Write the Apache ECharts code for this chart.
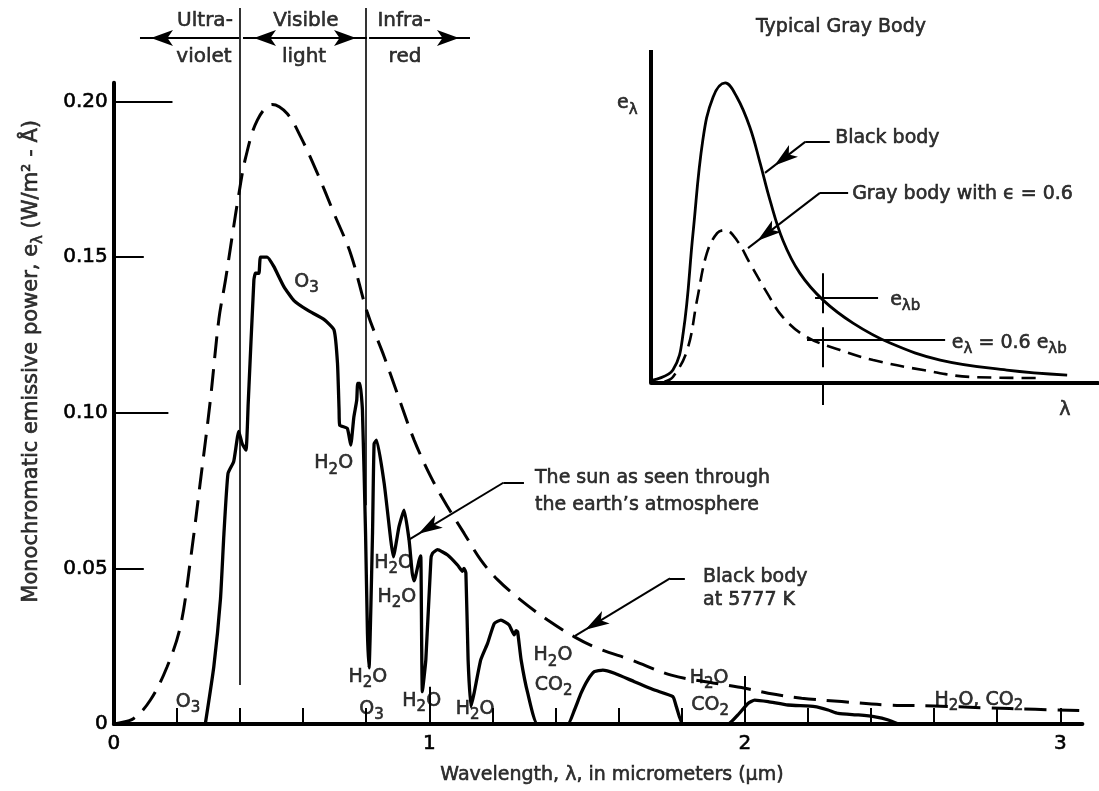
<!DOCTYPE html>
<html><head><meta charset="utf-8">
<script src="https://cdn.jsdelivr.net/npm/echarts@6/dist/echarts.min.js"></script>
<style>html,body{margin:0;padding:0;background:#fff}#c{width:1099px;height:791px}</style>
</head><body><div id="c"></div>
<script>
// ---------- data (wavelength in micrometers, emissive power) ----------
const blackBody5777K = [[0,0],[0.01,0.0002],[0.063,0.0018],[0.116,0.0077],[0.169,0.0184],[0.211,0.0313],[0.243,0.0527],[0.275,0.0784],[0.306,0.104],[0.333,0.130],[0.354,0.1426],[0.375,0.1565],[0.396,0.170],[0.418,0.182],[0.455,0.194],[0.502,0.199],[0.55,0.196],[0.592,0.1887],[0.645,0.177],[0.698,0.164],[0.751,0.151],[0.804,0.132],[0.857,0.118],[0.899,0.106],[0.952,0.0912],[1.005,0.0794],[1.058,0.0698],[1.11,0.0613],[1.163,0.0527],[1.217,0.0463],[1.29,0.0398],[1.375,0.0334],[1.46,0.028],[1.534,0.0243],[1.64,0.0206],[1.767,0.0157],[1.9,0.0132],[2.0,0.0115],[2.074,0.0099],[2.18,0.0083],[2.307,0.0072],[2.455,0.0061],[2.6,0.0058],[2.76,0.0052],[2.92,0.0047],[3.06,0.0043]];
const sunThroughAtmosphere = [[0.29,0],[0.317,0.0184],[0.338,0.040],[0.349,0.061],[0.362,0.0805],[0.38,0.0843],[0.396,0.094],[0.407,0.090],[0.419,0.088],[0.426,0.103],[0.444,0.1426],[0.449,0.1448],[0.46,0.1448],[0.465,0.150],[0.486,0.150],[0.507,0.147],[0.539,0.1405],[0.571,0.136],[0.613,0.133],[0.666,0.130],[0.698,0.1266],[0.709,0.1159],[0.714,0.101],[0.716,0.096],[0.74,0.095],[0.751,0.0896],[0.761,0.0987],[0.77,0.104],[0.773,0.1094],[0.78,0.1094],[0.788,0.101],[0.798,0.061],[0.804,0.029],[0.809,0.018],[0.82,0.061],[0.825,0.090],[0.833,0.0912],[0.857,0.0773],[0.878,0.059],[0.886,0.0537],[0.904,0.0634],[0.92,0.0687],[0.936,0.059],[0.946,0.0484],[0.952,0.046],[0.968,0.0527],[0.973,0.054],[0.978,0.0104],[0.989,0.0206],[1.005,0.0527],[1.01,0.0548],[1.026,0.056],[1.058,0.0543],[1.09,0.051],[1.105,0.049],[1.11,0.050],[1.116,0.0485],[1.123,0.0206],[1.132,0.0056],[1.142,0.0099],[1.163,0.0206],[1.185,0.026],[1.206,0.0323],[1.227,0.0334],[1.253,0.0318],[1.269,0.0286],[1.275,0.030],[1.28,0.0296],[1.291,0.0206],[1.312,0.0099],[1.343,0],[1.439,0],[1.46,0.0045],[1.481,0.0099],[1.502,0.0141],[1.523,0.0168],[1.55,0.0173],[1.587,0.0163],[1.65,0.0136],[1.714,0.0109],[1.772,0.0088],[1.783,0.0056],[1.804,0],[1.947,0],[1.978,0.0029],[2.01,0.0066],[2.031,0.0077],[2.074,0.0072],[2.137,0.0061],[2.222,0.0056],[2.264,0.0045],[2.296,0.0034],[2.36,0.0029],[2.413,0.0023],[2.455,0.0013],[2.487,0]];
// inset (arbitrary units)
const insetBlackBody = [[0.04,0.009],[0.49,0.039],[0.72,0.150],[0.94,0.450],[1.16,0.730],[1.39,0.859],[1.66,0.901],[1.92,0.859],[2.21,0.769],[2.44,0.661],[2.66,0.550],[2.95,0.429],[3.33,0.330],[3.85,0.249],[4.52,0.180],[5.35,0.120],[6.47,0.069],[7.96,0.039],[9.31,0.024]];
const insetGrayBody = [[0.3,0.004],[0.49,0.018],[0.81,0.099],[1.03,0.249],[1.25,0.390],[1.48,0.450],[1.66,0.459],[1.92,0.429],[2.21,0.360],[2.60,0.270],[2.95,0.198],[3.49,0.138],[4.23,0.099],[4.97,0.069],[6.09,0.039],[7.20,0.018],[8.70,0.015]];
// ticks
const xTickValues = [0,0.2,0.4,0.6,0.8,1,1.2,1.4,1.6,1.8,2,2.2,2.4,2.6,2.8,3];
const xLabelValues = [0,1,2,3];
const xTickLabels = ['0','1','2','3'];
const yTickValues = [0,0.05,0.1,0.15,0.2];
const yTickLabels = ['0','0.05','0.10','0.15','0.20'];
// text annotations [text, x, y, ...]
const absorptionLabels = [
  ['O{s|3}',0.235,0.0071],['O{s|3}',0.611,0.142],['H{s|2}O',0.697,0.0838],
  ['H{s|2}O',0.887,0.0517],['H{s|2}O',0.897,0.0408],['H{s|2}O',0.805,0.0151],
  ['O{s|3}',0.817,0.0048],['H{s|2}O',0.976,0.0074],['H{s|2}O',1.145,0.0048],
  ['H{s|2}O',1.392,0.022],['CO{s|2}',1.394,0.0125],['H{s|2}O',1.887,0.0148],
  ['CO{s|2}',1.89,0.0061],['H{s|2}O, CO{s|2}',2.742,0.0077]
];
const bandLabels = [['Ultra-',0.289,0.2258],['violet',0.286,0.2143],['Visible',0.609,0.2258],['light',0.603,0.2143],['Infra-',0.92,0.2258],['red',0.923,0.2143]];
const noteLabels = [
  ['The sun as seen through\nthe earth\u2019s atmosphere',1.335,0.0747,27],
  ['Black body\nat 5777 K',1.8675,0.0435,23]
];
const insetLabels = [
  ['Typical Gray Body',4.25,1.069,'c'],['Black body',4.12,0.736,'l'],
  ['Gray body with \u03f5 = 0.6',4.50,0.568,'l'],['e{s|\u03bbb}',5.35,0.249,'l'],
  ['e{s|\u03bb} = 0.6 e{s|\u03bbb}',6.73,0.120,'l'],['e{s|\u03bb}',-0.76,0.84,'l'],['\u03bb',9.26,-0.081,'c']
];

// ---------- layout ----------
const F = 'DejaVu Sans';
const X0 = 113.8, XS = 315.5, XMAX = 3.07, Y0 = 724, YS = 3113, YMAX = 0.206, YTOP = 0.23;
const W = 1099, H = 791;
const INK = { color: '#000', textBorderColor: '#000', textBorderWidth: 0.6 };
const rich = { s: Object.assign({ fontSize: 15, fontFamily: F, padding: [13, 0, 0, 0] }, INK) };
const txt = (size) => Object.assign({ show: true, fontFamily: F, fontSize: size, rich: rich, formatter: p => p.name }, INK);

function pt(c, extra) { return Object.assign({ coord: c }, extra || {}); }
function arrowPt(c, w, h) { return { coord: c, symbol: 'arrow', symbolSize: [w, h], symbolOffset: [0, h / 2] }; }
function seg(a, b, style) { return [pt(a, style ? { lineStyle: style } : {}), pt(b)]; }
function arrowSeg(a, b, style) { return [pt(a, style ? { lineStyle: style } : {}), arrowPt(b, 11, 24)]; }

function labelSeries(xi, yi, items, size, anchorFn) {
  return {
    type: 'scatter', xAxisIndex: xi, yAxisIndex: yi, symbolSize: 0, clip: false, silent: true, z: 10,
    itemStyle: { color: '#000' },
    label: txt(size),
    data: items.map(it => ({ name: it[0], value: [it[1], it[2]], label: anchorFn(it) }))
  };
}

const markBase = { silent: true, symbol: 'none', label: { show: false }, emphasis: { disabled: true }, animation: false,
  itemStyle: { color: '#000' }, lineStyle: { color: '#000', width: 2, type: 'solid' } };

const option = {
  animation: false,
  backgroundColor: '#fff',
  grid: [
    { left: X0, right: W - (X0 + XMAX * XS), top: Y0 - YMAX * YS, bottom: H - Y0 },
    { left: X0, right: W - (X0 + XMAX * XS), top: Y0 - YTOP * YS, bottom: H - Y0 },
    { left: 651, right: 1, top: 50, bottom: H - 420 }
  ],
  xAxis: [
    { gridIndex: 0, type: 'value', min: 0, max: XMAX,
      axisLine: { lineStyle: { color: '#000', width: 4 } },
      axisTick: { inside: true, length: 16, lineStyle: { color: '#000', width: 2 }, customValues: xTickValues },
      axisLabel: Object.assign({ customValues: xLabelValues, fontFamily: F, fontSize: 20, margin: 10,
        formatter: v => xTickLabels[xLabelValues.indexOf(Math.round(v))] }, INK),
      splitLine: { show: false } },
    { gridIndex: 1, type: 'value', min: 0, max: XMAX, show: false },
    { gridIndex: 2, type: 'value', min: 0, max: 10,
      axisLine: { onZero: true, lineStyle: { color: '#000', width: 4 } },
      axisTick: { show: false }, axisLabel: { show: false }, splitLine: { show: false } }
  ],
  yAxis: [
    { gridIndex: 0, type: 'value', min: 0, max: YMAX,
      axisLine: { lineStyle: { color: '#000', width: 4 } },
      axisTick: { inside: true, length: 30, lineStyle: { color: '#000', width: 2 }, customValues: yTickValues },
      axisLabel: Object.assign({ customValues: yTickValues, fontFamily: F, fontSize: 20, margin: 6,
        formatter: v => yTickLabels[Math.round(v / 0.05)] }, INK),
      splitLine: { show: false } },
    { gridIndex: 1, type: 'value', min: 0, max: YTOP, show: false },
    { gridIndex: 2, type: 'value', min: -0.111, max: 1, show: false }
  ],
  series: [
    { type: 'line', name: 'Black body at 5777 K', xAxisIndex: 0, yAxisIndex: 0, data: blackBody5777K,
      symbol: 'none', smooth: 0.35, silent: true, clip: false,
      lineStyle: { color: '#000', width: 3, type: [22, 11] } },
    { type: 'line', name: 'Sun through atmosphere', xAxisIndex: 0, yAxisIndex: 0, data: sunThroughAtmosphere,
      symbol: 'none', smooth: 0.15, silent: true, clip: false,
      lineStyle: { color: '#000', width: 3.3, cap: 'round', join: 'round' },
      markLine: Object.assign({}, markBase, { data: [
        seg([0, 0.2], [0.186, 0.2]), seg([0, 0.1], [0.173, 0.1]),
        seg([1, 0], [1, 0.012]), seg([2, 0], [2, 0.0154]),
        seg([1.300, 0.0775], [1.2346, 0.0775]), arrowSeg([1.2346, 0.0775], [0.933, 0.0591]),
        seg([1.81, 0.0468], [1.763, 0.0468]), arrowSeg([1.763, 0.0468], [1.462, 0.0283])
      ] }) },
    labelSeries(0, 0, absorptionLabels, 19, () => ({ position: 'inside' })),
    labelSeries(0, 0, noteLabels, 19, it => ({ position: 'right', distance: 0, lineHeight: it[3], align: 'left' })),
    // overlay grid: spectral bands
    Object.assign(labelSeries(1, 1, bandLabels, 20, () => ({ position: 'inside' })), {
      markLine: Object.assign({}, markBase, { data: [
        seg([0.4, 0.0125], [0.4, YTOP], { width: 1.6 }),
        seg([0.8, 0.0703], [0.8, YTOP], { width: 1.6 }),
        [pt([0.397, 0.2204]), arrowPt([0.083, 0.2204], 12, 22)],
        [arrowPt([0.8026, 0.2204], 12, 22), arrowPt([0.4095, 0.2204], 12, 22)],
        [pt([0.809, 0.2204]), arrowPt([1.129, 0.2204], 12, 22)]
      ] }) }),
    labelSeries(1, 1, [['Wavelength, \u03bb, in micrometers (\u03bcm)', 1.579, -0.0164]], 19, () => ({ position: 'inside' })),
    labelSeries(1, 1, [['Monochromatic emissive power, e{s|\u03bb} (W/m\u00b2 - \u00c5)', -0.262, 0.1165]], 21, () => ({ position: 'inside', rotate: 90 })),
    // inset
    { type: 'line', xAxisIndex: 2, yAxisIndex: 2, data: insetBlackBody, symbol: 'none', smooth: 0.4, silent: true,
      lineStyle: { color: '#000', width: 2.8 } },
    { type: 'line', xAxisIndex: 2, yAxisIndex: 2, data: insetGrayBody, symbol: 'none', smooth: 0.4, silent: true,
      lineStyle: { color: '#000', width: 2.6, type: [14, 8] } },
    Object.assign(labelSeries(2, 2, insetLabels, 19, it => it[3] === 'c' ? { position: 'inside' } : { position: 'right', distance: 0 }), {
      markLine: Object.assign({}, markBase, { data: [
        seg([0, 0], [0, 1], { width: 4 }),
        seg([4.00, 0.724], [3.45, 0.724]), arrowSeg([3.45, 0.724], [2.55, 0.631]),
        seg([4.41, 0.571], [3.78, 0.571]), arrowSeg([3.78, 0.571], [2.17, 0.405]),
        seg([3.67, 0.255], [5.08, 0.255]), seg([3.49, 0.129], [6.58, 0.129]),
        seg([3.85, 0.330], [3.85, -0.066], { type: [40, 14] })
      ] }) })
  ]
};
const chart = echarts.init(document.getElementById('c'), null, { renderer: 'canvas' });
chart.setOption(option);
</script></body></html>
